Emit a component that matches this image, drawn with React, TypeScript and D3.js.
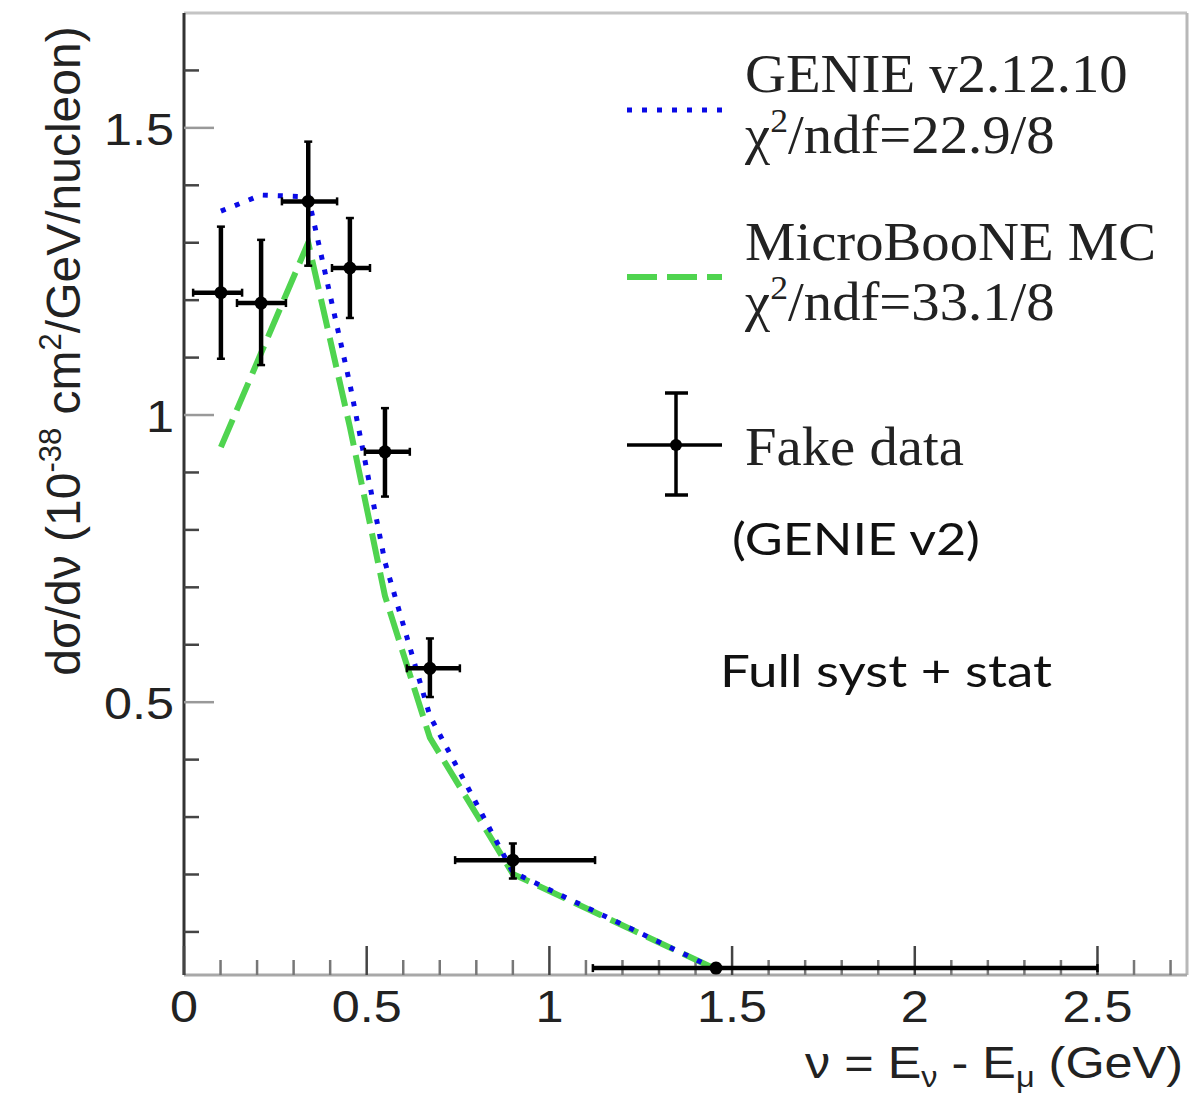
import React from "react";
import * as d3 from "d3";

// ---- data ----
const nuCenter = [0.101, 0.211, 0.34, 0.454, 0.55, 0.673, 0.9, 1.456];
const binLow = [0.025, 0.145, 0.268, 0.405, 0.495, 0.61, 0.742, 1.119];
const binHigh = [0.159, 0.279, 0.419, 0.509, 0.618, 0.755, 1.125, 2.5];
const fakeData = [1.213, 1.195, 1.372, 1.256, 0.936, 0.559, 0.225, 0.037];
const fakeErrLow = [1.098, 1.087, 1.26, 1.169, 0.858, 0.509, 0.193, 0.03];
const fakeErrHigh = [1.328, 1.305, 1.476, 1.343, 1.012, 0.611, 0.254, 0.044];
const genieV2 = [1.355, 1.383, 1.38, 1.054, 0.744, 0.476, 0.204, 0.035];
const uBooneMC = [0.944, 1.108, 1.3, 0.979, 0.685, 0.438, 0.201, 0.035];

const xMajorTicks = [0, 0.5, 1, 1.5, 2, 2.5];
const xTickLabels = ["0", "0.5", "1", "1.5", "2", "2.5"];
const yMajorTicks = [0.5, 1, 1.5];
const yTickLabels = ["0.5", "1", "1.5"];

const legendEntries = [
  { name: "GENIE v2.12.10", chi2: "=22.9/8" },
  { name: "MicroBooNE MC", chi2: "=33.1/8" },
];

const BLUE = "#0a0ae6";
const GREEN = "#4fd44f";
const SANS = "'Liberation Sans', Arial, Helvetica, sans-serif";
const SERIF = "'Liberation Serif', 'Times New Roman', serif";
const CAL = "Lato, 'Open Sans', sans-serif";
const SX = 1.12;
const SXS = 1.05;

export default function App() {
  const X0 = 184, X1 = 1187, Y0 = 975, Y1 = 13;
  const x = d3.scaleLinear().domain([0, 2.745]).range([X0, X1]);
  const y = d3.scaleLinear().domain([0.025, 1.7]).range([Y0, Y1]);
  const line = d3
    .line<number>()
    .x((_, i) => x(nuCenter[i]))
    .y((d) => y(d));

  const xMinor = d3.range(1, 28).map((i) => i / 10).filter((v) => Math.abs(v * 2 - Math.round(v * 2)) > 1e-6);
  const yMinor = d3.range(1, 17).map((i) => i / 10).filter((v) => Math.abs(v * 2 - Math.round(v * 2)) > 1e-6 && v > 0.025);

  const cap = 4;

  return (
    <svg width={1193} height={1098} style={{ position: "absolute", left: 0, top: 0, background: "#fff" }}>
      <rect x={0} y={0} width={1193} height={1098} fill="#fff" />
      {/* frame */}
      <line x1={X0} x2={X1} y1={Y1} y2={Y1} stroke="#c4c4c4" strokeWidth={3} />
      <line x1={X1} x2={X1} y1={Y1} y2={Y0} stroke="#b8b8b8" strokeWidth={3} />
      <line x1={X0} x2={X1} y1={Y0} y2={Y0} stroke="#a8a8a8" strokeWidth={3} />
      <line x1={X0} x2={X0} y1={Y1} y2={Y0} stroke="#333" strokeWidth={3} />

      {/* x ticks */}
      {xMajorTicks.map((v) => (
        <line key={"xM" + v} x1={x(v)} x2={x(v)} y1={Y0} y2={Y0 - 29} stroke="#444" strokeWidth={2.5} />
      ))}
      {xMinor.map((v) => (
        <line key={"xm" + v} x1={x(v)} x2={x(v)} y1={Y0} y2={Y0 - 15} stroke="#777" strokeWidth={2.5} />
      ))}
      {xMajorTicks.map((v, i) => (
        <text key={"xl" + v} transform={`translate(${x(v)},1022) scale(${SX},1)`} textAnchor="middle" fontFamily={SANS} fontSize={45} fill="#222">
          {xTickLabels[i]}
        </text>
      ))}

      {/* y ticks */}
      {yMajorTicks.map((v) => (
        <line key={"yM" + v} x1={X0} x2={X0 + 30} y1={y(v)} y2={y(v)} stroke="#999" strokeWidth={2.5} />
      ))}
      {yMinor.map((v) => (
        <line key={"ym" + v} x1={X0} x2={X0 + 15} y1={y(v)} y2={y(v)} stroke="#444" strokeWidth={2.5} />
      ))}
      {yMajorTicks.map((v, i) => (
        <text key={"yl" + v} transform={`translate(174,${y(v) + 17}) scale(${SX},1)`} textAnchor="end" fontFamily={SANS} fontSize={45} fill="#222">
          {yTickLabels[i]}
        </text>
      ))}

      {/* axis titles */}
      <text transform="translate(80,351) rotate(-90)" textAnchor="middle" fontFamily={SANS} fontSize={48} fill="#222">
        dσ/dν (10
        <tspan dy={-19} fontSize={31}>-38</tspan>
        <tspan dy={19}> cm</tspan>
        <tspan dy={-19} fontSize={31}>2</tspan>
        <tspan dy={19}>/GeV/nucleon)</tspan>
      </text>
      <text transform={`translate(1183,1078) scale(${SX},1)`} textAnchor="end" fontFamily={SANS} fontSize={45} fill="#222">
        ν = E<tspan dy={9} fontSize={29}>ν</tspan>
        <tspan dy={-9}> - E</tspan>
        <tspan dy={9} fontSize={29}>μ</tspan>
        <tspan dy={-9}> (GeV)</tspan>
      </text>

      {/* model curves */}
      <path d={line(uBooneMC) || ""} fill="none" stroke={GREEN} strokeWidth={6} strokeDasharray="30 10" />
      <path d={line(genieV2) || ""} fill="none" stroke={BLUE} strokeWidth={5} strokeDasharray="5 10" />

      {/* fake data */}
      {fakeData.map((v, i) => {
        const cx = x(nuCenter[i]);
        const cy = y(v);
        const xl = x(binLow[i]), xh = x(binHigh[i]);
        const yl = y(fakeErrLow[i]), yh = y(fakeErrHigh[i]);
        return (
          <g key={"d" + i} stroke="#000" strokeWidth={4.5}>
            <line x1={xl} x2={xh} y1={cy} y2={cy} />
            <line x1={cx} x2={cx} y1={yl} y2={yh} />
            <line x1={xl} x2={xl} y1={cy - cap} y2={cy + cap} strokeWidth={2.5} />
            <line x1={xh} x2={xh} y1={cy - cap} y2={cy + cap} strokeWidth={2.5} />
            <line x1={cx - cap} x2={cx + cap} y1={yl} y2={yl} strokeWidth={2.5} />
            <line x1={cx - cap} x2={cx + cap} y1={yh} y2={yh} strokeWidth={2.5} />
            <circle cx={cx} cy={cy} r={6.5} fill="#000" stroke="none" />
          </g>
        );
      })}

      {/* legend */}
      <line x1={627} x2={722} y1={110} y2={110} stroke={BLUE} strokeWidth={5} strokeDasharray="5 10" />
      <line x1={627} x2={722} y1={277} y2={277} stroke={GREEN} strokeWidth={6} strokeDasharray="30 10" />
      {legendEntries.map((e, i) => (
        <g key={"le" + i}>
          <text transform={`translate(745,${92 + i * 168}) scale(${SXS},1)`} fontFamily={SERIF} fontSize={54} fill="#222">
            {e.name}
          </text>
          <text transform={`translate(745,${153 + i * 167}) scale(${SXS},1)`} fontFamily={SERIF} fontSize={54} fill="#222">
            χ<tspan dy={-21} fontSize={34}>2</tspan>
            <tspan dy={21}>/ndf{e.chi2}</tspan>
          </text>
        </g>
      ))}
      <g stroke="#000" strokeWidth={3.5}>
        <line x1={627} x2={722} y1={445} y2={445} />
        <line x1={676} x2={676} y1={393} y2={495} />
        <line x1={665} x2={688} y1={393} y2={393} />
        <line x1={665} x2={688} y1={495} y2={495} />
        <circle cx={676} cy={445} r={6} fill="#000" stroke="none" />
      </g>
      <text transform={`translate(745,465) scale(${SXS},1)`} fontFamily={SERIF} fontSize={54} fill="#222">
        Fake data
      </text>
      <text x={732} y={555} textLength={248} lengthAdjust="spacingAndGlyphs" fontFamily={CAL} fontSize={45} fill="#111">
        (GENIE v2)
      </text>
      <text x={720} y={687} textLength={332} lengthAdjust="spacingAndGlyphs" fontFamily={CAL} fontSize={45} fill="#111">
        Full syst + stat
      </text>
    </svg>
  );
}
